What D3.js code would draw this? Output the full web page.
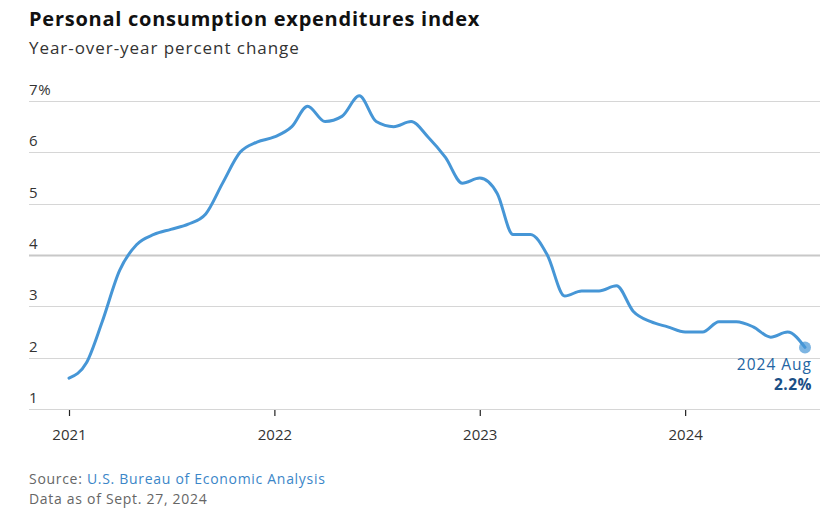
<!DOCTYPE html>
<html>
<head>
<meta charset="utf-8">
<script src="https://cdn.jsdelivr.net/npm/d3@7"></script>
<style>
  html, body { margin: 0; padding: 0; background: #fff; }
  svg { display: block; font-family: "Open Sans", Lato, sans-serif; }
</style>
</head>
<body>
<svg id="chart" width="838" height="512"></svg>
<script>
const months = [
  "2021-01","2021-02","2021-03","2021-04","2021-05","2021-06","2021-07","2021-08","2021-09","2021-10","2021-11","2021-12",
  "2022-01","2022-02","2022-03","2022-04","2022-05","2022-06","2022-07","2022-08","2022-09","2022-10","2022-11","2022-12",
  "2023-01","2023-02","2023-03","2023-04","2023-05","2023-06","2023-07","2023-08","2023-09","2023-10","2023-11","2023-12",
  "2024-01","2024-02","2024-03","2024-04","2024-05","2024-06","2024-07","2024-08"
];
const pceValues = [
  1.6, 1.9, 2.7, 3.7, 4.2, 4.4, 4.5, 4.6, 4.8, 5.4, 6.0, 6.2,
  6.3, 6.5, 6.9, 6.6, 6.7, 7.1, 6.6, 6.5, 6.6, 6.3, 5.9, 5.4,
  5.5, 5.2, 4.4, 4.4, 4.0, 3.2, 3.3, 3.3, 3.4, 2.9, 2.7, 2.6,
  2.5, 2.5, 2.7, 2.7, 2.6, 2.4, 2.5, 2.2
];
const yTicks = [1, 2, 3, 4, 5, 6, 7];
const xTickYears = ["2021", "2022", "2023", "2024"];
const titleText = "Personal consumption expenditures index";
const subtitleText = "Year-over-year percent change";
const lastLabel = "2024 Aug";
const lastValueLabel = "2.2%";

(function () {
const parse = d3.timeParse("%Y-%m");
const data = months.map((m, i) => ({ date: parse(m), value: pceValues[i] }));

const svg = d3.select("#chart");
const padL = 29, padR = 820, plotTop = 101, plotBottom = 409;

const x = d3.scaleTime()
  .domain([parse("2021-01"), parse("2024-08")])
  .range([69, 805]);
const y = d3.scaleLinear().domain([1, 7]).range([plotBottom, plotTop]);

svg.append("text").attr("x", padL).attr("y", 26)
  .attr("font-size", 20).attr("font-weight", 700).attr("fill", "#111")
  .attr("letter-spacing", 0.75)
  .text(titleText);
svg.append("text").attr("x", padL).attr("y", 54)
  .attr("font-size", 17).attr("fill", "#333")
  .attr("letter-spacing", 0.95)
  .text(subtitleText);

const grid = svg.append("g");
grid.selectAll("line").data(yTicks).join("line")
  .attr("x1", padL).attr("x2", padR)
  .attr("y1", d => Math.round(y(d)) + 0.5).attr("y2", d => Math.round(y(d)) + 0.5)
  .attr("stroke", d => d === 4 ? "#c8c8c8" : "#d6d6d6")
  .attr("stroke-width", d => d === 4 ? 2 : 1);

svg.append("g").selectAll("text").data(yTicks).join("text")
  .attr("x", padL).attr("y", d => y(d) - 6)
  .attr("font-size", 15).attr("fill", "#333")
  .attr("letter-spacing", 0.6)
  .text(d => d === 7 ? d + "%" : d);

const xTicks = xTickYears.map(yy => parse(yy + "-01"));
const xAxis = d3.axisBottom(x).tickValues(xTicks).tickSize(6).tickFormat(d3.timeFormat("%Y"));
const gx = svg.append("g").attr("transform", `translate(0,${plotBottom + 1})`).call(xAxis);
gx.select(".domain").remove();
gx.selectAll(".tick line").attr("stroke", "#222").attr("stroke-width", 1.2);
gx.selectAll(".tick text").attr("font-size", 15).attr("fill", "#333")
  .attr("font-family", "'Open Sans', Lato, sans-serif").attr("dy", null).attr("y", 30);

const line = d3.line().x(d => x(d.date)).y(d => y(d.value)).curve(d3.curveMonotoneX);
svg.append("path").datum(data)
  .attr("d", line)
  .attr("fill", "none")
  .attr("stroke", "#4696d6")
  .attr("stroke-width", 3)
  .attr("stroke-linejoin", "round")
  .attr("stroke-linecap", "round");

const last = data[data.length - 1];
svg.append("circle")
  .attr("cx", x(last.date)).attr("cy", y(last.value)).attr("r", 6)
  .attr("fill", "#4696d6").attr("fill-opacity", 0.7);

svg.append("text").attr("x", 812).attr("y", 370)
  .attr("text-anchor", "end").attr("font-size", 15.5).attr("fill", "#2365a3")
  .attr("letter-spacing", 1)
  .text(lastLabel);
svg.append("text").attr("x", 812).attr("y", 390)
  .attr("text-anchor", "end").attr("font-size", 15.5).attr("font-weight", 700).attr("fill", "#1b4f86")
  .attr("letter-spacing", 0.5)
  .text(lastValueLabel);

const src = svg.append("text").attr("x", padL).attr("y", 484).attr("font-size", 14)
  .attr("letter-spacing", 0.7);
src.append("tspan").attr("fill", "#666").text("Source: ");
src.append("tspan").attr("fill", "#3b86c8").text("U.S. Bureau of Economic Analysis");
svg.append("text").attr("x", padL).attr("y", 504).attr("font-size", 14).attr("fill", "#666")
  .attr("letter-spacing", 0.7)
  .text("Data as of Sept. 27, 2024");
})();
</script>
</body>
</html>
